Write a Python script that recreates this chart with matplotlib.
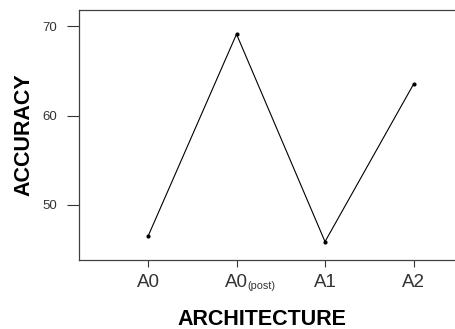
import matplotlib.pyplot as plt

plt.rcParams["font.family"] = ["Liberation Sans", "DejaVu Sans"]

architectures = ["A0", "A0", "A1", "A2"]
subscripts = ["", "(post)", "", ""]
accuracy = [46.5, 69.1, 45.9, 63.5]
y_ticks = [50, 60, 70]

fig = plt.figure(figsize=(4.56, 3.29), dpi=100)
# axes run off the right edge, as in the original
ax = fig.add_axes([79 / 456, 69 / 329, 400 / 456, 250 / 329])

x = list(range(len(architectures)))
ax.plot(x, accuracy, color="black", linewidth=0.8, marker="o",
        markersize=3, markerfacecolor="black", markeredgewidth=0)

ax.set_xlim(-0.78, 3.74)
ax.set_ylim(43.85, 71.8)
ax.set_xticks(x)
ax.set_xticklabels(architectures, fontsize=13.5, color="#333333")
ax.set_yticks(y_ticks)
ax.set_yticklabels([str(v) for v in y_ticks], fontsize=9.5, color="#333333")
ax.tick_params(axis="y", length=8.6, width=0.8, pad=7, color="#333333")
ax.tick_params(axis="x", length=5, width=0.8, pad=5, color="#333333")

# small "(post)" hanging off the right of the tick label
for xi, sub in zip(x, subscripts):
    if sub:
        ax.annotate(sub, xy=(xi, 0), xycoords=("data", "axes fraction"),
                    xytext=(7.6, -20.8), textcoords="offset points",
                    ha="left", va="baseline", fontsize=7.8, color="#333333")

for side in ["left", "bottom", "top"]:
    ax.spines[side].set_color("#404040")
    ax.spines[side].set_linewidth(0.9)
ax.spines["right"].set_visible(False)

ax.set_xlabel("ARCHITECTURE", fontsize=15.5, fontweight="bold")
ax.xaxis.set_label_coords(183 / 400, -0.195)
ax.set_ylabel("ACCURACY", fontsize=15.5, fontweight="bold", va="center")
ax.yaxis.set_label_coords(-0.147 * 377 / 400, 0.5)

fig.savefig("out.png", dpi=100)
